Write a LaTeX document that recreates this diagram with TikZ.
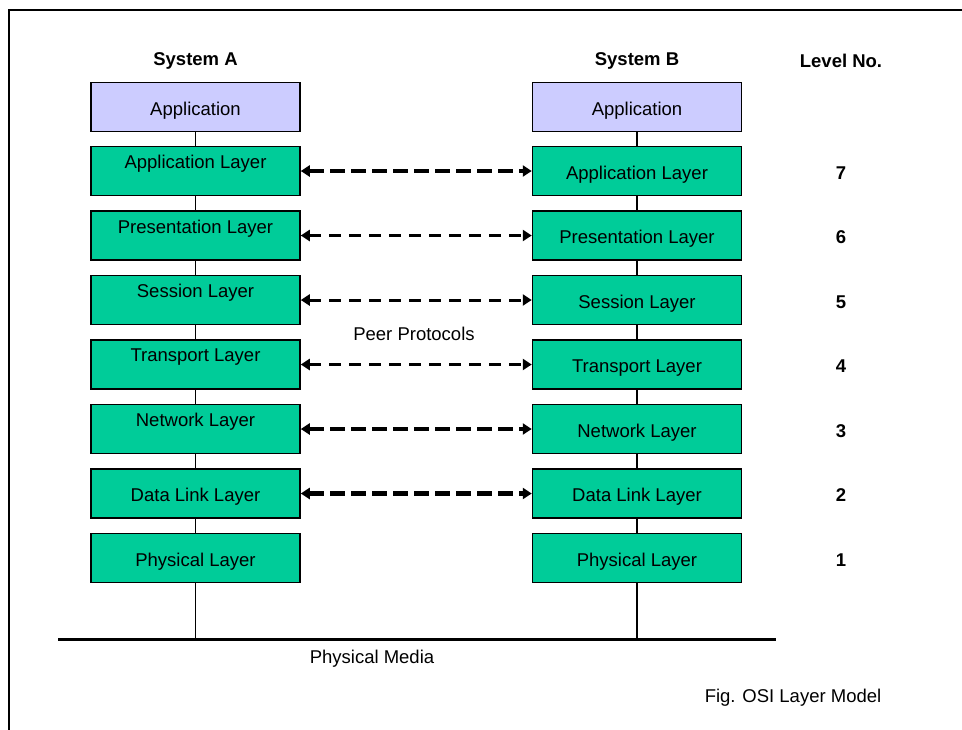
\documentclass[tikz,border=0pt]{standalone}
\usepackage{fontspec}
\setmainfont{Liberation Sans}
\usetikzlibrary{arrows.meta}
\definecolor{appblue}{RGB}{204,204,255}
\definecolor{layergreen}{RGB}{0,204,153}
\tikzset{
  osibox/.style={draw, line width=1.5pt, minimum width=209pt, minimum height=49pt, inner sep=0pt,
    text height=16pt, text depth=0pt},
  txt/.style={font=\fontsize{18.5}{22}\selectfont},
  hdr/.style={font=\fontsize{18.5}{22}\selectfont\bfseries},
  link/.style={line width=1.5pt},
  peer/.style={line width=3pt, dash pattern=on 12pt off 8pt,
    {Triangle[length=9pt,width=11pt]}-{Triangle[length=9pt,width=11pt]}},
  peerbold/.style={peer, line width=4.5pt, dash pattern=on 15pt off 6pt}
}
% one OSI level: number, centre y, name, lift of the name in system A
\def\osilayer(#1,#2,#3,#4){
  \node[osibox, fill=layergreen] (a#1) at (195.5,#2) {};
  \node[txt, yshift=#4] (ta#1) at (a#1) {#3};
  \node[osibox, fill=layergreen, txt] (b#1) at (637,#2) {#3};
  \node[hdr, yshift=-2pt] (n#1) at (841,#2) {#1};
}

\begin{document}
\begin{tikzpicture}[x=1pt, y=-1pt]
\useasboundingbox (0,0) rectangle (962,729);
\draw[line width=2pt] (9,740) -- (9,10) -- (975,10);

\node[hdr] (sysA) at (195.5,61) {System A};
\node[hdr] (sysB) at (637,61) {System B};
\node[hdr] (level) at (841,61) {Level No.};

\node[osibox, fill=appblue, txt] (appA) at (195.5,107) {Application};
\node[osibox, fill=appblue, txt] (appB) at (637,107) {Application};

\osilayer(7,171,Application Layer,7pt)
\osilayer(6,235.5,Presentation Layer,7pt)
\osilayer(5,300,Session Layer,7pt)
\osilayer(4,364.5,Transport Layer,7pt)
\osilayer(3,429,Network Layer,7pt)
\osilayer(2,493.5,Data Link Layer,-3.5pt)
\osilayer(1,558,Physical Layer,-3.5pt)

% stack links
\draw[link] (appA) -- (a7);
\draw[link] (appB) -- (b7);
\foreach \u/\l in {7/6,6/5,5/4,4/3,3/2,2/1}{
  \draw[link] (a\u) -- (a\l);
  \draw[link] (b\u) -- (b\l);
}

% physical media
\coordinate (gl) at (58,639);
\coordinate (gr) at (776,639);
\draw[line width=3pt] (gl) -- (gr);
\draw[link] (a1.south) -- (a1.south |- gl);
\draw[link] (b1.south) -- (b1.south |- gl);
\node[txt] (media) at (372,659) {Physical Media};

% peer protocols
\draw[peerbold] (a7.east) -- (b7.west);
\draw[peer] (a6.east) -- (b6.west);
\draw[peer] (a5.east) -- (b5.west);
\draw[peer] (a4.east) -- (b4.west);
\draw[peerbold] (a3.east) -- (b3.west);
\draw[peerbold] (a2.east) -- (b2.west);
\node[txt] (proto) at (414,334) {Peer Protocols};

\node[txt] (caption) at (793,698) {Fig. OSI Layer Model};
\end{tikzpicture}
\end{document}
